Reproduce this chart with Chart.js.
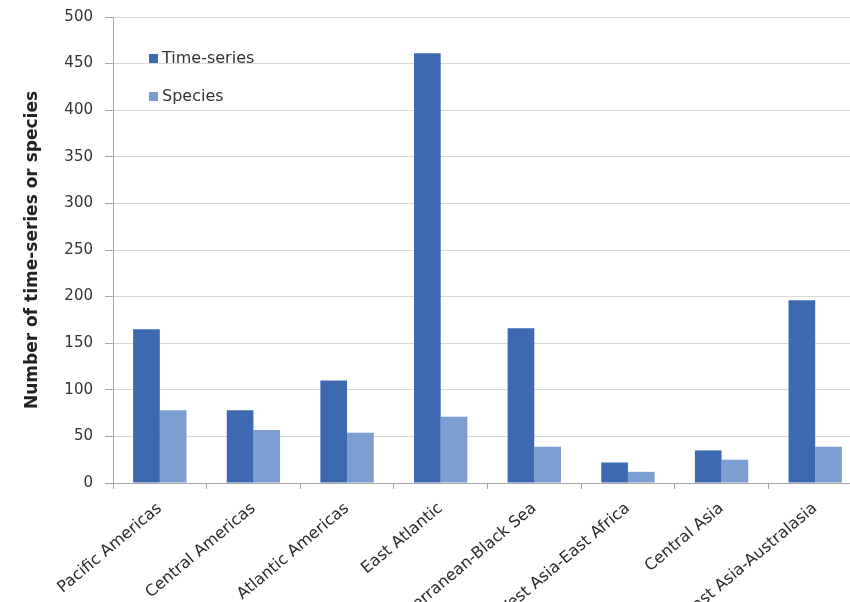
<!DOCTYPE html>
<html>
<head>
<meta charset="utf-8">
<script src="https://cdn.jsdelivr.net/npm/chart.js@4.4.1/dist/chart.umd.min.js"></script>
<style>
html, body { margin: 0; padding: 0; background: #fff; }
#wrap { position: relative; width: 850px; height: 602px; overflow: hidden; }
#box { position: absolute; left: 0; top: 0; width: 862px; height: 602px; }
.leg { position: absolute; left: 149px; font: 16px "DejaVu Sans", sans-serif; color: #333; line-height: 16px; white-space: nowrap; }
.leg span { display: inline-block; width: 9px; height: 9px; margin-right: 4px; vertical-align: 0px; }
</style>
</head>
<body>
<div id="wrap">
  <div id="box"><canvas id="chart" width="862" height="602"></canvas></div>
</div>
<script>
// region names (x axis)
var regions = ['Pacific Americas', 'Central Americas', 'Atlantic Americas', 'East Atlantic',
               'Mediterranean-Black Sea', 'West Asia-East Africa', 'Central Asia', 'Southeast Asia-Australasia'];
var timeSeries = [165, 78, 110, 461, 166, 22, 35, 196];
var species = [78, 57, 54, 71, 39, 12, 25, 39];
var seriesNames = ['Time-series', 'Species'];
var seriesColors = ['#3c69b0', '#7c9dcf'];
var yTicks = [0, 50, 100, 150, 200, 250, 300, 350, 400, 450, 500];

// legend sits inside the plot, top left
var legendTops = [50, 88];
seriesNames.forEach(function(name, i) {
    var d = document.createElement('div');
    d.className = 'leg';
    d.style.top = legendTops[i] + 'px';
    d.innerHTML = '<span style="background:' + seriesColors[i] + '"></span>' + name;
    document.getElementById('wrap').appendChild(d);
});

var font = '"DejaVu Sans", sans-serif';

new Chart(document.getElementById('chart'), {
    type: 'bar',
    data: {
        labels: regions,
        datasets: [
            { label: seriesNames[0], data: timeSeries, backgroundColor: seriesColors[0] },
            { label: seriesNames[1], data: species, backgroundColor: seriesColors[1] }
        ]
    },
    options: {
        responsive: false,
        animation: false,
        layout: { padding: { top: 17, right: 0, left: 0, bottom: 0 } },
        datasets: { bar: { categoryPercentage: 0.57, barPercentage: 1.0 } },
        plugins: { legend: { display: false }, tooltip: { enabled: false } },
        scales: {
            x: {
                offset: true,
                grid: { display: true, drawOnChartArea: false, offset: true, tickLength: 6, tickColor: '#a6a6a6' },
                border: { color: '#a6a6a6' },
                ticks: {
                    color: '#2a2a2a', font: { family: font, size: 16 },
                    maxRotation: 40, minRotation: 40, padding: 10, autoSkip: false
                },
                afterFit: function(s) { s.height = 119; }
            },
            y: {
                min: 0, max: 500,
                afterBuildTicks: function(s) { s.ticks = yTicks.map(function(v) { return { value: v }; }); },
                grid: { color: '#d9d9d9', tickColor: '#a6a6a6', tickLength: 8 },
                border: { color: '#a6a6a6' },
                ticks: { color: '#333', font: { family: font, size: 15 }, padding: 12 },
                title: {
                    display: true, text: 'Number of time-series or species',
                    color: '#222', font: { family: font, size: 17, weight: 'bold' },
                    padding: { top: 22, bottom: 0 }
                },
                afterFit: function(s) {
                    s.width = 113;
                    s.paddingTop = 0;
                    s.paddingBottom = 0;
                }
            }
        }
    }
});
</script>
</body>
</html>
